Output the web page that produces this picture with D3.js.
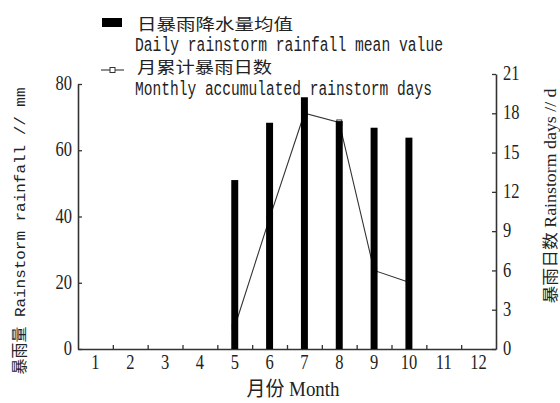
<!DOCTYPE html>
<html><head><meta charset="utf-8">
<script src="https://cdn.jsdelivr.net/npm/d3@7"></script>
<style>body{margin:0;background:#fff}svg{display:block}</style>
</head><body>
<script>
const months = [1,2,3,4,5,6,7,8,9,10,11,12];
const rainfall = [0,0,0,0,51,68.3,76,68.8,66.8,63.8,0,0];
const dayMonths = [5,6,7,8,9,10];
const stormDays = [1.7,10,18,17.3,6,5.1];
const leftTicks = [0,20,40,60,80];
const rightTicks = [0,3,6,9,12,15,18,21];
const legendCN = ["日暴雨降水量均值","月累计暴雨日数"];
const legendEN = ["Daily rainstorm rainfall mean value","Monthly accumulated rainstorm days"];
const yLeftLabel = "暴雨量 Rainstorm rainfall // mm";
const yRightLabel = "暴雨日数 Rainstorm days // d";
const xLabel = "月份 Month";

const W=560,H=403;
const svg=d3.select("body").append("svg").attr("width",W).attr("height",H);
const X0=78,X1=496,Y0=349;
const ink="#222", axisC="#333";
const serif="'Liberation Serif','Noto Sans CJK SC',serif";
const mono="'Liberation Mono','Noto Sans CJK SC',monospace";
const cjk="'Noto Sans CJK SC',sans-serif";

const x=d3.scaleBand().domain(months).range([X0,X1]).paddingInner(0.8).paddingOuter(0.4);
const xb=d3.scaleLinear().domain([0.5,12.5]).range([X0,X1]);
const yL=d3.scaleLinear().domain([0,80]).range([Y0,84]);
const yR=d3.scaleLinear().domain([0,21]).range([Y0,74]);

function styleAxis(g){
  g.select(".domain").attr("stroke",axisC).attr("stroke-width",1.6);
  g.selectAll(".tick line").attr("stroke",axisC).attr("stroke-width",1.3);
}
// left axis
const gL=svg.append("g").attr("transform",`translate(${X0},0)`)
  .call(d3.axisLeft(yL).tickValues(leftTicks).tickSize(-4).tickSizeOuter(0).tickPadding(6));
styleAxis(gL);
gL.selectAll(".tick text").attr("font-family",serif).attr("font-size",16.5).attr("fill",ink)
  .attr("dy","0.26em").attr("transform","scale(1,1.32)");
// right axis
const gR=svg.append("g").attr("transform",`translate(${X1},0)`)
  .call(d3.axisRight(yR).tickValues(rightTicks).tickSize(-4).tickSizeOuter(0).tickPadding(7));
styleAxis(gR);
gR.selectAll(".tick text").attr("font-family",serif).attr("font-size",16.5).attr("fill",ink)
  .attr("dy","0.26em").attr("transform","scale(1,1.32)");
// bottom axis: ticks at band boundaries
const gB=svg.append("g").attr("transform",`translate(0,${Y0})`)
  .call(d3.axisBottom(xb).tickValues(d3.range(1.5,12,1)).tickSize(-4).tickSizeOuter(0).tickFormat(""));
styleAxis(gB);
const gBL=svg.append("g").attr("transform",`translate(0,${Y0})`)
  .call(d3.axisBottom(x).tickSize(0).tickPadding(0));
gBL.select(".domain").remove();
gBL.selectAll(".tick text").attr("font-family",serif).attr("font-size",16.5).attr("fill",ink)
  .attr("y",0).attr("dy","0").attr("transform","translate(0,20) scale(1,1.32)");

// line series
const line=d3.line().x((d,i)=>x(dayMonths[i])+x.bandwidth()/2).y(d=>yR(d));
svg.append("path").datum(stormDays).attr("d",line).attr("fill","none").attr("stroke","#333").attr("stroke-width",1.1);
svg.selectAll("rect.mk").data(stormDays).join("rect").attr("class","mk")
  .attr("x",(d,i)=>x(dayMonths[i])+x.bandwidth()/2-2.5).attr("y",d=>yR(d)-2.5)
  .attr("width",5).attr("height",5).attr("fill","#fff").attr("stroke","#333").attr("stroke-width",1);
// bars
svg.selectAll("rect.bar").data(months.filter((m,i)=>rainfall[i]>0)).join("rect").attr("class","bar")
  .attr("x",m=>x(m)).attr("width",x.bandwidth())
  .attr("y",m=>yL(rainfall[months.indexOf(m)])).attr("height",m=>Y0-yL(rainfall[months.indexOf(m)]))
  .attr("fill","#000");

// text helper
function txt(s,xp,yp,font,size,opts={}){
  const g=svg.append("g").attr("transform",`translate(${xp},${yp})${opts.rot?` rotate(${opts.rot})`:""} scale(1,${opts.sy||1})`);
  const t=g.append("text").text(s).attr("font-family",font).attr("font-size",size).attr("fill",ink)
    .attr("text-anchor",opts.anchor||"start");
  if(opts.len) t.attr("textLength",opts.len).attr("lengthAdjust","spacingAndGlyphs");
  return t;
}
// legend
svg.append("rect").attr("x",102).attr("y",18).attr("width",20).attr("height",9).attr("fill","#000");
svg.append("line").attr("x1",101).attr("x2",124).attr("y1",70).attr("y2",70).attr("stroke","#333").attr("stroke-width",1.1);
svg.append("rect").attr("x",110).attr("y",67.5).attr("width",5).attr("height",5).attr("fill","#fff").attr("stroke","#333");
txt(legendCN[0],137,30,cjk,15.5,{len:156});
txt(legendEN[0],135,51,mono,14.5,{sy:1.35,len:308});
txt(legendCN[1],137,73,cjk,15.5,{len:135});
txt(legendEN[1],135,95,mono,14.5,{sy:1.35,len:297});
// axis titles
txt(yLeftLabel,25,231,mono,15.5,{rot:-90,anchor:"middle",len:287});
txt(yRightLabel,556,196,serif,16,{rot:-90,anchor:"middle",len:215});
txt(xLabel,293,396,serif,16,{anchor:"middle",sy:1.25,len:93});
</script>
</body></html>
